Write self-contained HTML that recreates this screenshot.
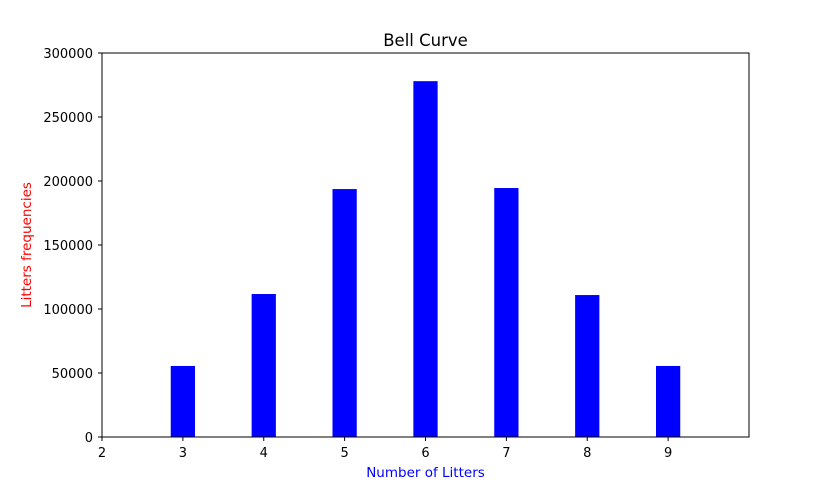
<!DOCTYPE html>
<html><head><meta charset="utf-8"><style>
body{margin:0;background:#fff;}
svg text{font-family:"DejaVu Sans","Liberation Sans",sans-serif;}
</style></head><body>
<svg id="chart" width="831" height="491" xmlns="http://www.w3.org/2000/svg">
<rect width="831" height="491" fill="#fff"/>
<text x="425.5" y="46" font-size="16.5" text-anchor="middle">Bell Curve</text>
<text x="425.5" y="477" font-size="13.5" fill="blue" text-anchor="middle">Number of Litters</text>
<text transform="translate(31,245) rotate(-90)" font-size="13.5" fill="red" text-anchor="middle">Litters frequencies</text>
<g id="bars"></g>
<g id="xticks"></g>
<g id="yticks"></g>
<rect x="102" y="53" width="647" height="384" fill="none" stroke="#000" stroke-width="1"/>
</svg>
<script>
const categories = [3, 4, 5, 6, 7, 8, 9];
const frequencies = [55500, 111700, 193700, 278000, 194500, 110900, 55500];
const xTickLabels = [2, 3, 4, 5, 6, 7, 8, 9];
const yTickLabels = [0, 50000, 100000, 150000, 200000, 250000, 300000];

const X0 = 102, X1 = 749, Y0 = 437, Y1 = 53;
const xMin = 2, xMax = 10, yMin = 0, yMax = 300000;
const barW = 0.3;
function xs(v){ return X0 + (v - xMin) / (xMax - xMin) * (X1 - X0); }
function ys(v){ return Y0 - (v - yMin) / (yMax - yMin) * (Y0 - Y1); }
const NS = "http://www.w3.org/2000/svg";
const bars = document.getElementById('bars');
categories.forEach((c, i) => {
  const r = document.createElementNS(NS, 'rect');
  const x = xs(c - barW / 2), w = xs(c + barW / 2) - x;
  r.setAttribute('x', x);
  r.setAttribute('y', ys(frequencies[i]));
  r.setAttribute('width', w);
  r.setAttribute('height', ys(0) - ys(frequencies[i]));
  r.setAttribute('fill', 'blue');
  
  
  bars.appendChild(r);
});
const xt = document.getElementById('xticks');
xTickLabels.forEach(v => {
  const x = xs(v);
  const l = document.createElementNS(NS, 'line');
  l.setAttribute('x1', x); l.setAttribute('x2', x);
  l.setAttribute('y1', Y0); l.setAttribute('y2', Y0 + 4);
  l.setAttribute('stroke', '#000');
  
  
  xt.appendChild(l);
  const t = document.createElementNS(NS, 'text');
  t.setAttribute('x', x); t.setAttribute('y', Y0 + 20);
  t.setAttribute('font-size', '13'); t.setAttribute('text-anchor', 'middle');
  t.textContent = v;
  
  
  xt.appendChild(t);
});
const yt = document.getElementById('yticks');
yTickLabels.forEach(v => {
  const y = ys(v);
  const l = document.createElementNS(NS, 'line');
  l.setAttribute('x1', X0 - 4); l.setAttribute('x2', X0);
  l.setAttribute('y1', y); l.setAttribute('y2', y);
  l.setAttribute('stroke', '#000');
  
  
  yt.appendChild(l);
  const t = document.createElementNS(NS, 'text');
  t.setAttribute('x', X0 - 9); t.setAttribute('y', y + 5);
  t.setAttribute('font-size', '13'); t.setAttribute('text-anchor', 'end');
  t.textContent = v;
  
  
  yt.appendChild(t);
});
</script>
</body></html>
